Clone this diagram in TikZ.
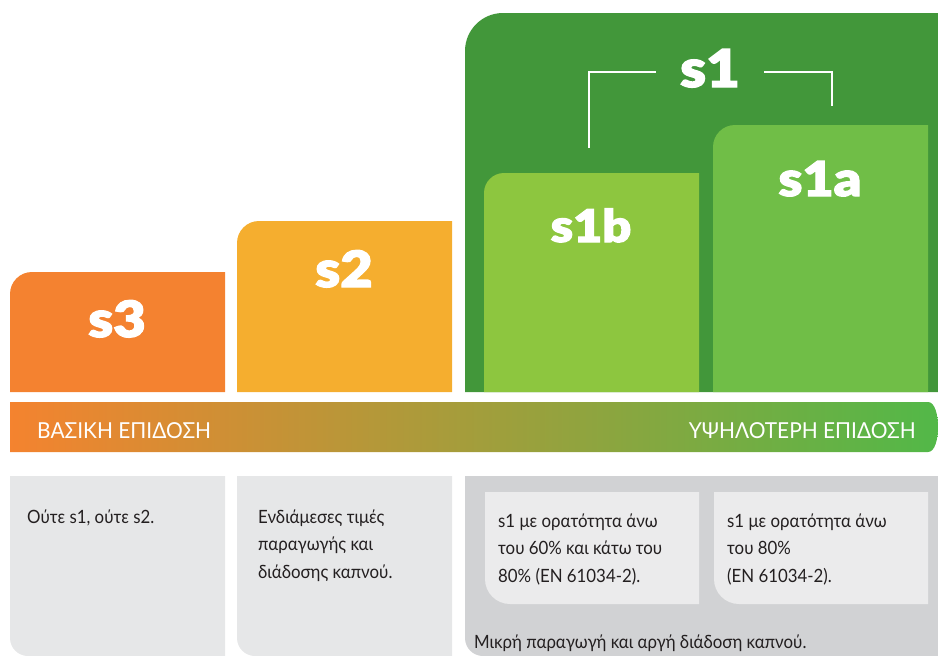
\documentclass[tikz,border=0pt]{standalone}
\usepackage{fontspec}
\setmainfont[FakeStretch=0.92]{Lato}
\newfontfamily\heavyfont[FakeBold=2.5, FakeStretch=1.12]{Lato Black}
\newfontfamily\condfont[FakeStretch=0.95]{Lato}
\usetikzlibrary{calc}
\definecolor{sthree}{HTML}{F48230}
\definecolor{stwo}{HTML}{F5AE2F}
\definecolor{sone}{HTML}{42973A}
\definecolor{sonea}{HTML}{70BE47}
\definecolor{soneb}{HTML}{8DC63F}
\definecolor{barleft}{HTML}{F4832F}
\definecolor{barmid}{HTML}{BCA13A}
\definecolor{barright}{HTML}{52B848}
\definecolor{lightgray}{HTML}{E6E7E8}
\definecolor{darkgray}{HTML}{D1D2D4}
\definecolor{innergray}{HTML}{EBEBEC}
\definecolor{txt}{HTML}{231F20}
% box with rounded top-left corner: x1 y1 x2 y2 radius colour
\newcommand{\topbox}[6]{\fill[#6] (#1,#4) -- (#1,{#2+#5}) .. controls (#1,{#2+0.448*#5}) and ({#1+0.448*#5},#2) .. ({#1+#5},#2) -- (#3,#2) -- (#3,#4) -- cycle;}
% box with rounded bottom-left corner
\newcommand{\botbox}[6]{\fill[#6] (#1,#2) -- (#3,#2) -- (#3,#4) -- ({#1+#5},#4) .. controls ({#1+0.448*#5},#4) and (#1,{#4-0.448*#5}) .. (#1,{#4-#5}) -- cycle;}
\tikzset{
  lvl/.style={font=\heavyfont\fontsize{#1}{#1}\selectfont, text=white, inner sep=0pt, anchor=base},
  desc/.style={font=\fontsize{18.3}{27.5}\selectfont, text=txt, align=left, inner sep=0pt, anchor=base west},
  barlabel/.style={font=\condfont\fontsize{22}{22}\selectfont, text=white, inner sep=0pt},
  bracket/.style={draw=white, line width=2.3pt}
}
\begin{document}
\begin{tikzpicture}[x=1pt,y=-1pt]
      \useasboundingbox (0,0) rectangle (938,656);
      %columns
      \topbox{465}{13}{938}{392}{38}{sone}
      \topbox{10}{272}{225}{392}{22}{sthree}
      \topbox{237}{221}{452}{392}{22}{stwo}
      \topbox{484}{173}{699}{392}{20}{soneb}
      \topbox{713}{125}{928}{392}{22}{sonea}
      %labels
      \node[lvl=50] (s3) at (117,337) {s3};
      \node[lvl=50] (s2) at (344,287) {s2};
      \node[lvl=52, inner xsep=24pt] (s1) at (710,87) {s1};
      \node[lvl=45] (s1b) at (591,242) {s1b};
      \node[lvl=48] (s1a) at (820,196) {s1a};
      \coordinate (brl) at (589,148);
      \coordinate (brr) at (832,106);
      \draw[bracket] (brl) |- ($(s1.west)+(0,4)$);
      \draw[bracket] ($(s1.east)+(0,4)$) -| (brr);
      %scale bar
      \shade[left color=barleft, middle color=barmid, right color=barright]
        (10,402) -- (928,402) .. controls (935,402) and (938,415) .. (938,427)
        .. controls (938,439) and (935,452) .. (928,452) -- (10,452) -- cycle;
      \node[barlabel, anchor=base west] (basic) at (37,438) {ΒΑΣΙΚΗ ΕΠΙΔΟΣΗ};
      \node[barlabel, anchor=base east] (high) at (916,438) {ΥΨΗΛΟΤΕΡΗ ΕΠΙΔΟΣΗ};
      %descriptions (base = last line)
      \botbox{10}{476}{225}{656}{18}{lightgray}
      \botbox{237}{476}{452}{656}{18}{lightgray}
      \botbox{465}{476}{938}{656}{18}{darkgray}
      \botbox{485}{492}{699}{604}{25}{innergray}
      \botbox{714}{492}{928}{604}{25}{innergray}
      \node[desc] (d3) at (27,523) {Ούτε s1, ούτε s2.};
      \node[desc] (d2) at (258,578) {Ενδιάμεσες τιμές\\παραγωγής και\\διάδοσης καπνού.};
      \node[desc] (d1b) at (498,582) {s1 με ορατότητα άνω\\του 60\% και κάτω του\\80\% (EN 61034-2).};
      \node[desc] (d1a) at (727,582) {s1 με ορατότητα άνω\\του 80\%\\(EN 61034-2).};
      \node[desc] (d1) at (474,648) {Μικρή παραγωγή και αργή διάδοση καπνού.};
\end{tikzpicture}
\end{document}
